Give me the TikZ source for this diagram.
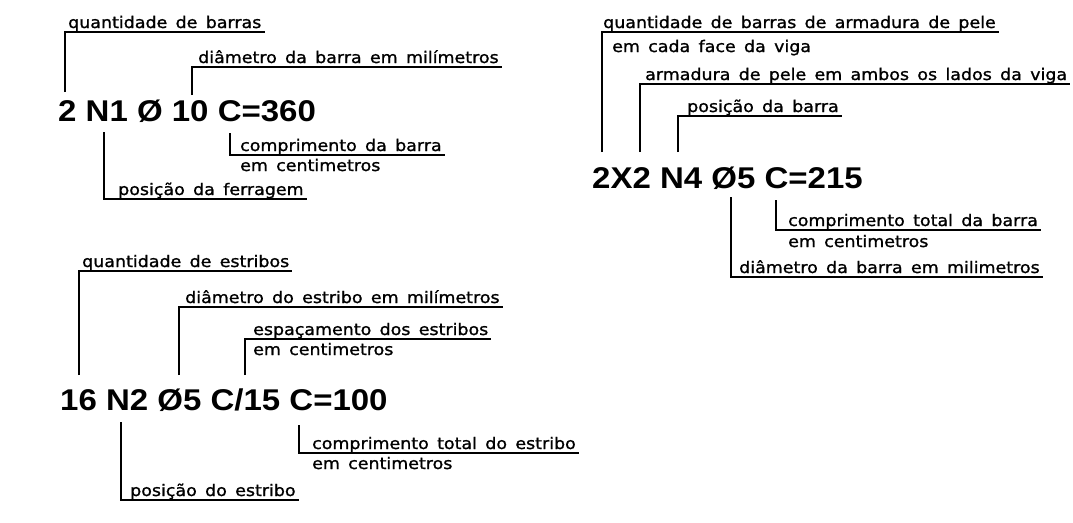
\documentclass[tikz,border=0pt]{standalone}
\usepackage{fontspec}
\newfontfamily\cadfont[FakeStretch=1.09,WordSpace=1.5,FakeBold=1.2]{DejaVu Sans}
\newfontfamily\codefont[FakeStretch=1.1]{Liberation Sans}
\usetikzlibrary{calc}

\begin{document}
\begin{tikzpicture}[x=1pt,y=-1pt]

\tikzset{
lbl/.style={anchor=base west,inner sep=0pt,font={\cadfont\fontsize{16pt}{19pt}\selectfont}},
code/.style={anchor=base west,inner sep=0pt,font={\codefont\bfseries\fontsize{30pt}{36pt}\selectfont}},
leader/.style={draw=black,line width=1.1pt}
}

\useasboundingbox (0,0) rectangle (1073,522);

% Nodes
\coordinate (ul) at (3,4);
\coordinate (nl) at (0,20);

% Codes
\node[code] (codeA) at (58,121) {2 N1 Ø 10 C=360};
\node[code] (codeB) at (60,410) {16 N2 Ø5 C/15 C=100};
\node[code] (codeC) at (592,188) {2X2 N4 Ø5 C=215};

% Free ends of the leaders
\coordinate (qtdA-end) at (65,92);
\coordinate (diamA-end) at (192,95);
\coordinate (compA-end) at (230,133);
\coordinate (posA-end) at (104,132);

\coordinate (qtdB-end) at (79,375);
\coordinate (diamB-end) at (179,375);
\coordinate (espB-end) at (245,375);
\coordinate (compB-end) at (299,425);
\coordinate (posB-end) at (121,422);

\coordinate (qtdC-end) at (602,152);
\coordinate (armC-end) at (640,152);
\coordinate (posC-end) at (678,152);
\coordinate (compC-end) at (776,200);
\coordinate (diamC-end) at (731,197);

% Labels
\node[lbl] (qtdA) at (68,28) {quantidade de barras};
\node[lbl] (diamA) at (198,63) {diâmetro da barra em milímetros};
\node[lbl] (compA) at (240,151) {comprimento da barra};
\node[lbl] (compA2) at ($(compA.base west)+(nl)$) {em centimetros};
\node[lbl] (posA) at (118,195) {posição da ferragem};

\node[lbl] (qtdB) at (82,267) {quantidade de estribos};
\node[lbl] (diamB) at (185,303) {diâmetro do estribo em milímetros};
\node[lbl] (espB) at (253,335) {espaçamento dos estribos};
\node[lbl] (espB2) at ($(espB.base west)+(nl)$) {em centimetros};
\node[lbl] (compB) at (312,449) {comprimento total do estribo};
\node[lbl] (compB2) at ($(compB.base west)+(nl)$) {em centimetros};
\node[lbl] (posB) at (130,496) {posição do estribo};

\node[lbl] (qtdC) at (603,28) {quantidade de barras de armadura de pele};
\node[lbl] (qtdC2) at ($(qtdC.base west)+(9,24)$) {em cada face da viga};
\node[lbl] (armC) at (645,80) {armadura de pele em ambos os lados da viga};
\node[lbl] (posC) at (687,112) {posição da barra};
\node[lbl] (compC) at (788,226) {comprimento total da barra};
\node[lbl] (compC2) at ($(compC.base west)+(0,21)$) {em centimetros};
\node[lbl] (diamC) at (739,273) {diâmetro da barra em milimetros};

% Leaders
\foreach \l in {qtdA,diamA,compA,posA,qtdB,diamB,espB,compB,posB,qtdC,armC,posC,compC,diamC}
  \draw[leader] (\l-end) |- ($(\l.base east)+(ul)$);

\end{tikzpicture}
\end{document}
